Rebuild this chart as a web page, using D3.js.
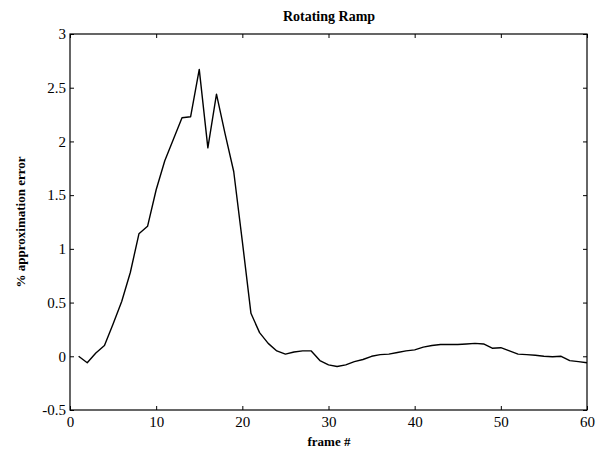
<!DOCTYPE html>
<html>
<head>
<meta charset="utf-8">
<script src="https://cdn.jsdelivr.net/npm/d3@7"></script>
<style>
  body { margin: 0; background: #fff; }
  text { font-family: "Liberation Serif", "Times New Roman", serif; fill: #000; }
</style>
</head>
<body>
<div id="chart-area"></div>
<script>
// data
var frames = [1,2,3,4,5,6,7,8,9,10,11,12,13,14,15,16,17,18,19,20,
              21,22,23,24,25,26,27,28,29,30,31,32,33,34,35,36,37,38,39,40,
              41,42,43,44,45,46,47,48,49,50,51,52,53,54,55,56,57,58,59,60];
var errors = [0,-0.06,0.03,0.1,0.3,0.51,0.78,1.14,1.21,1.55,1.82,2.02,2.22,2.23,2.67,1.94,2.44,2.07,1.72,1.07,
              0.40,0.22,0.12,0.05,0.02,0.04,0.05,0.05,-0.04,-0.08,-0.095,-0.08,-0.05,-0.03,0.0,0.015,0.02,0.035,0.05,0.06,
              0.085,0.10,0.11,0.11,0.11,0.115,0.12,0.115,0.075,0.08,0.05,0.02,0.015,0.01,0.0,-0.005,0.0,-0.04,-0.05,-0.06];
var xTicks = [0,10,20,30,40,50,60];
var yTicks = [-0.5,0,0.5,1,1.5,2,2.5,3];

var margins = { left: 70, right: 12, top: 34, bottom: 46 };
var width = 599 - margins.left - margins.right;
var height = 456 - margins.top - margins.bottom;

var svg = d3.select("#chart-area")
    .append("svg")
    .attr("width", 599)
    .attr("height", 456);

var g = svg.append("g")
    .attr("transform", "translate(" + margins.left + ", " + margins.top + ")");

var x = d3.scaleLinear().domain([0, 60]).range([0, width]);
var y = d3.scaleLinear().domain([-0.5, 3]).range([height, 0]);

// frame box
g.append("rect")
    .attr("x", 0).attr("y", 0)
    .attr("width", width).attr("height", height)
    .attr("fill", "none")
    .attr("stroke", "#000")
    .attr("stroke-width", 1.2);

// axes, ticks pointing inward like matlab
function styleAxis(sel) {
    sel.select(".domain").remove();
    sel.selectAll("line").attr("stroke", "#000").attr("stroke-width", 1);
    sel.selectAll("text").attr("font-size", "15px").attr("fill", "#000");
}

g.append("g")
    .attr("transform", "translate(0, " + height + ")")
    .call(d3.axisBottom(x).tickValues(xTicks).tickSize(-4).tickPadding(6).tickFormat(d3.format("d")))
    .call(styleAxis);
g.append("g")
    .call(d3.axisTop(x).tickValues(xTicks).tickSize(-4).tickFormat(""))
    .call(styleAxis);
g.append("g")
    .call(d3.axisLeft(y).tickValues(yTicks).tickSize(-4).tickPadding(4).tickFormat(function(d){ return String(d); }))
    .call(styleAxis);
g.append("g")
    .attr("transform", "translate(" + width + ", 0)")
    .call(d3.axisRight(y).tickValues(yTicks).tickSize(-4).tickFormat(""))
    .call(styleAxis);

// the line
var pts = frames.map(function(f, i){ return [f, errors[i]]; });
g.append("path")
    .datum(pts)
    .attr("fill", "none")
    .attr("stroke", "#000")
    .attr("stroke-width", 1.4)
    .attr("stroke-linejoin", "round")
    .attr("d", d3.line()
        .x(function(d){ return x(d[0]); })
        .y(function(d){ return y(d[1]); }));

// labels
svg.append("text")
    .attr("x", 329)
    .attr("y", 21)
    .attr("text-anchor", "middle")
    .attr("font-size", "14px")
    .attr("font-weight", "bold")
    .text("Rotating Ramp");

svg.append("text")
    .attr("x", 329)
    .attr("y", 446)
    .attr("text-anchor", "middle")
    .attr("font-size", "13px")
    .attr("font-weight", "bold")
    .text("frame #");

svg.append("text")
    .attr("transform", "translate(25, " + (margins.top + height / 2) + ") rotate(-90)")
    .attr("text-anchor", "middle")
    .attr("font-size", "13px")
    .attr("font-weight", "bold")
    .text("% approximation error");
</script>
</body>
</html>
